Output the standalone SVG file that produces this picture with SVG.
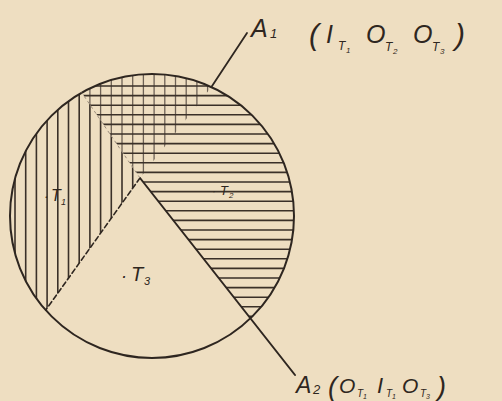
<svg xmlns="http://www.w3.org/2000/svg" width="502" height="401" viewBox="0 0 502 401">
<style>
.ink{stroke:#2e2620;fill:none;stroke-linecap:round}
.hatch{stroke:#3a3028;stroke-width:1.6}
.hatchl{stroke:#6e6256;stroke-width:1.3}
.lbl{font-family:"Liberation Sans",Arial,sans-serif;font-style:italic;fill:#2e2620}
</style>
<defs>
<clipPath id="cVonly"><path d="M140,178 L45.7,310.1 A142,142 0 0 1 81.7,92.6 Z"/></clipPath>
<clipPath id="cOver"><path d="M140,178 L81.7,92.6 A142,142 0 0 1 211.4,87.1 Z"/></clipPath>
<clipPath id="cH"><path d="M140,178 L81.7,92.6 A142,142 0 0 1 250.4,318.3 Z"/></clipPath>
<g id="vlines">
<path d="M15,60V330M25.7,60V330M36.4,60V330M47.1,60V330M57.8,60V330M68.5,60V330M79.2,60V330M89.9,60V330M100.6,60V330M111.3,60V330M122,60V330M132.7,60V330M143.4,60V330M154.1,60V330M164.8,60V330M175.5,60V330M186.2,60V330M196.9,60V330M207.6,60V330"/>
</g>
</defs>
<rect width="502" height="401" fill="#eedec1"/>
<g id="hatching">
<use href="#vlines" class="hatch" clip-path="url(#cVonly)"/>
<use href="#vlines" class="hatchl" clip-path="url(#cOver)"/>
<path class="hatch" clip-path="url(#cH)" d="M60,86H300M60,95.6H300M60,105.2H300M60,114.8H300M60,124.4H300M60,134H300M60,143.6H300M60,153.2H300M60,162.8H300M60,172.4H300M60,182H300M60,191.6H300M60,201.2H300M60,210.8H300M60,220.4H300M60,230H300M60,239.6H300M60,249.2H300M60,258.8H300M60,268.4H300M60,278H300M60,287.6H300M60,297.2H300M60,306.8H300M60,316.4H300"/>
</g>
<g id="circle">
<circle class="ink" cx="152" cy="216" r="142" stroke-width="2"/>
</g>
<g id="connectors">
<path class="ink" d="M140,178 L295,375" stroke-width="2"/>
<path class="ink" d="M211.4,87.1 L247,33" stroke-width="1.8"/>
<path class="ink" d="M140,178 L45.7,310.1" stroke-width="1.6" stroke-dasharray="5 3"/>
<path d="M140,178 L81.7,92.6" stroke="#9a8c7c" stroke-width="1" stroke-dasharray="3 3" fill="none"/>
</g>
<g id="region-labels" class="lbl">
<text x="44" y="201" font-size="14">·</text>
<text x="51" y="201" font-size="16">T</text>
<text x="61" y="205" font-size="9">1</text>
<text x="212" y="195" font-size="12">·</text>
<text x="220" y="195" font-size="13">T</text>
<text x="229" y="198" font-size="8">2</text>
<text x="121" y="282" font-size="18">·</text>
<text x="131" y="281" font-size="20">T</text>
<text x="144" y="285" font-size="11">3</text>
</g>
<g id="label-A1" class="lbl">
<text x="251" y="37" font-size="25">A</text>
<text x="270" y="38" font-size="13">1</text>
<text x="309" y="45" font-size="30">(</text>
<text x="326" y="43" font-size="25">I</text>
<text x="338" y="50" font-size="12">T</text>
<text x="346" y="53" font-size="8">1</text>
<text x="366" y="43" font-size="25">O</text>
<text x="385" y="51" font-size="12">T</text>
<text x="393" y="54" font-size="8">2</text>
<text x="413" y="43" font-size="25">O</text>
<text x="432" y="51" font-size="12">T</text>
<text x="440" y="54" font-size="8">3</text>
<text x="455" y="45" font-size="30">)</text>
</g>
<g id="label-A2" class="lbl">
<text x="296" y="393" font-size="23">A</text>
<text x="313" y="394" font-size="13">2</text>
<text x="328" y="396" font-size="27">(</text>
<text x="339" y="393" font-size="21">O</text>
<text x="357" y="397" font-size="10">T</text>
<text x="363" y="399" font-size="7">1</text>
<text x="377" y="393" font-size="22">I</text>
<text x="386" y="397" font-size="10">T</text>
<text x="392" y="399" font-size="7">1</text>
<text x="402" y="393" font-size="21">O</text>
<text x="420" y="397" font-size="10">T</text>
<text x="426" y="399" font-size="7">3</text>
<text x="437" y="396" font-size="27">)</text>
</g>
</svg>
